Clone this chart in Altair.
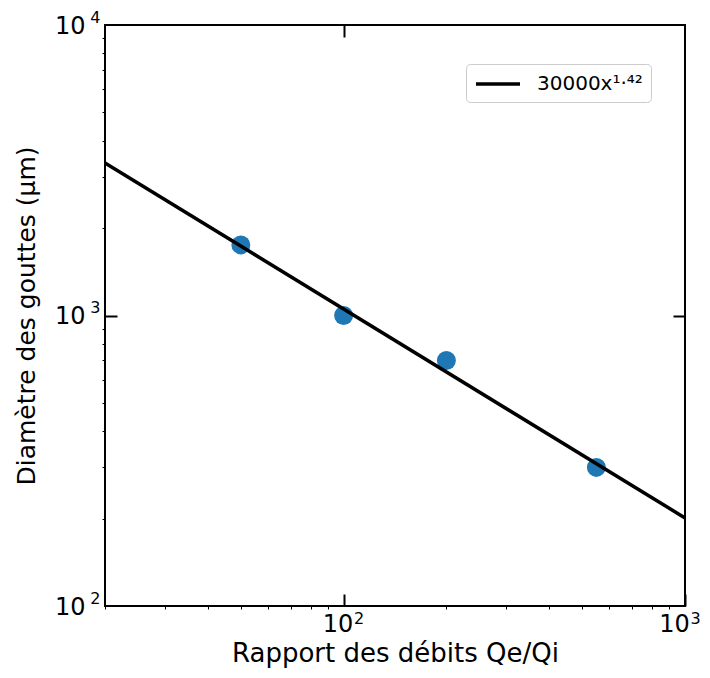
import altair as alt
import pandas as pd

# --- data ---
ratio = [50, 100, 200, 550]              # Rapport des débits Qe/Qi
diam = [1750, 1000, 700, 300]            # Diamètre des gouttes (µm)
fit_x = [20, 1000]                       # fitted power law, end points
fit_y = [3350, 201]
fit_label = ["30000x\u00b9\u00b7\u2074\u00b2"]   # 30000x^1.42

x_major = [100, 1000]
y_major = [100, 1000, 10000]
x_minor = [20, 30, 40, 50, 60, 70, 80, 90, 200, 300, 400, 500, 600, 700, 800, 900]
y_minor = [200, 300, 400, 500, 600, 700, 800, 900,
           2000, 3000, 4000, 5000, 6000, 7000, 8000, 9000]

pts = pd.DataFrame({"x": ratio, "y": diam})
fit = pd.DataFrame({"x": fit_x, "y": fit_y, "serie": fit_label * len(fit_x)})

FONT = "DejaVu Sans"
xs = alt.Scale(type="log", domain=[20, 1000], nice=False)
ys = alt.Scale(type="log", domain=[100, 10000], nice=False)

# tick labels written as base "10" + exponent on a second, smaller label axis
base_lab = "(datum.value == 100 || datum.value == 1000 || datum.value == 10000) ? '10' : ''"
exp_lab = "datum.value == 100 ? '2' : datum.value == 1000 ? '3' : datum.value == 10000 ? '4' : ''"
hide_major = {"condition": {"test": "datum.value == 100 || datum.value == 1000 || datum.value == 10000",
                            "value": 0}, "value": 1}

# main axes: base labels, titles, small outward minor ticks
line = alt.Chart(fit).mark_line(strokeWidth=3.5).encode(
    x=alt.X("x:Q", scale=xs, axis=alt.Axis(
        orient="bottom", values=sorted(x_minor + x_major), labelExpr=base_lab,
        tickSize=3, tickWidth=1, tickOpacity=hide_major, labelPadding=3,
        labelOffset={"condition": {"test": "datum.value == 1000", "value": -11}, "value": -6},
        labelFontSize=24, labelFont=FONT, labelOverlap=False, labelFlush=False,
        title="Rapport des débits Qe/Qi", titleFontSize=26, titleFont=FONT,
        titleFontWeight="normal", titlePadding=4)),
    y=alt.Y("y:Q", scale=ys, axis=alt.Axis(
        orient="left", values=sorted(y_minor + y_major), labelExpr=base_lab,
        tickSize=3, tickWidth=1, tickOpacity=hide_major, labelPadding=17,
        labelOffset=1,
        labelFontSize=24, labelFont=FONT, labelOverlap=False, labelFlush=False,
        title="Diamètre des gouttes (µm)", titleFontSize=25, titleFont=FONT,
        titleFontWeight="normal", titlePadding=15)),
    color=alt.Color("serie:N", scale=alt.Scale(range=["black"]), legend=alt.Legend(
        title=None, orient="none", legendX=361, legendY=39,
        symbolType="M-1,0H3.4", symbolSize=400, symbolStrokeWidth=3.5,
        symbolStrokeColor="black", labelFontSize=20, labelFont=FONT, labelOffset=39,
        labelLimit=300, padding=8, strokeColor="#cccccc", cornerRadius=4)),
)

# inward major ticks, bottom and left
inner = dict(domain=False, labels=False, title=None, tickSize=12, tickWidth=2, offset=-12)
points = alt.Chart(pts).mark_circle(size=360, color="#1f77b4", opacity=1).encode(
    x=alt.X("x:Q", scale=xs, axis=alt.Axis(orient="bottom", values=x_major, **inner)),
    y=alt.Y("y:Q", scale=ys, axis=alt.Axis(orient="left", values=[1000], **inner)),
)

# inward major ticks, top and right
ghost = alt.Chart(pts).mark_point(opacity=0).encode(
    x=alt.X("x:Q", scale=xs, axis=alt.Axis(orient="top", values=[100], **inner)),
    y=alt.Y("y:Q", scale=ys, axis=alt.Axis(orient="right", values=[1000], **inner)),
)

# exponents of the tick labels
sup_ax = dict(domain=False, ticks=False, tickSize=0, title=None, labelExpr=exp_lab,
              labelFontSize=16, labelFont=FONT, labelOverlap=False, labelFlush=False,
              labelColor="black")
expo_axes = alt.Chart(pts).mark_point(opacity=0).encode(
    x=alt.X("x:Q", scale=xs, axis=alt.Axis(
        orient="bottom", values=x_major, labelPadding=4,
        labelOffset={"condition": {"test": "datum.value == 1000", "value": 10}, "value": 15},
        **sup_ax)),
    y=alt.Y("y:Q", scale=ys, axis=alt.Axis(
        orient="left", values=y_major, labelPadding=5, labelOffset=-8, **sup_ax)),
)

chart = alt.layer(points, ghost, expo_axes, line).resolve_axis(
    x="independent", y="independent"
).properties(
    width=580, height=581,
    autosize=alt.AutoSizeParams(type="none"),
    padding={"left": 97, "top": 17, "right": 17, "bottom": 63},
).configure_axis(
    grid=False, domain=False, tickColor="black", labelColor="black", titleColor="black"
).configure_view(
    stroke="black", strokeWidth=2
)

chart.save("out.html", embed_options={"renderer": "svg", "actions": False})
